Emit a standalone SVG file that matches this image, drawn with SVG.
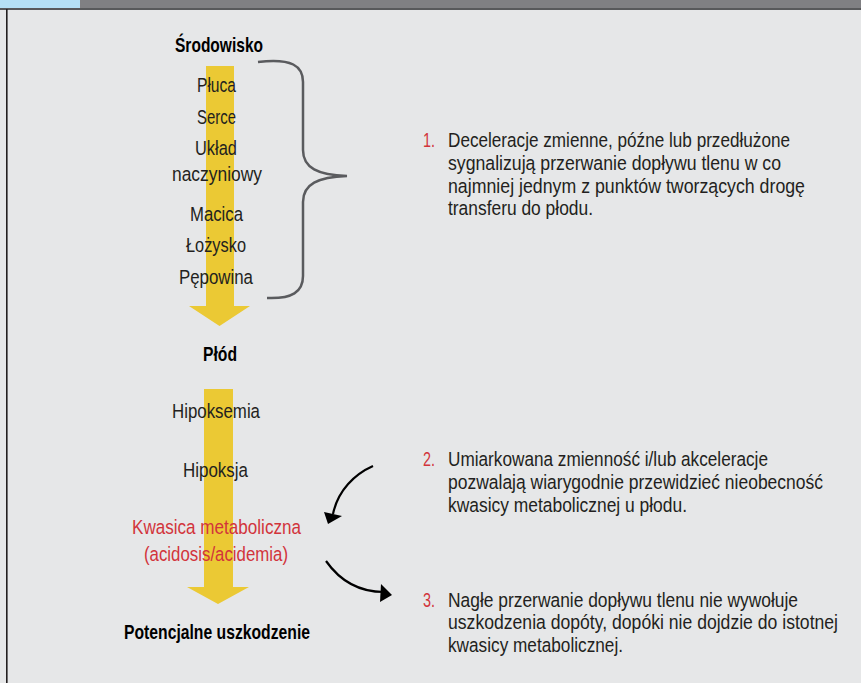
<svg xmlns="http://www.w3.org/2000/svg" width="861" height="683" viewBox="0 0 861 683">
<style>
text{font-family:"Liberation Sans",Arial,sans-serif;font-size:20.5px;fill:#231f20}
.c{text-anchor:middle}
.b{font-weight:bold;fill:#000}
.r{fill:#d2343b}
.n{fill:#d2343b}
.flow{fill:#ebc934}
.brace{fill:none;stroke:#5a5b5e;stroke-width:2.5}
.curve{fill:none;stroke:#000;stroke-width:2.2}
</style>
<rect x="0" y="0" width="861" height="683" fill="#e6e7e8"/>
<rect x="0" y="0" width="861" height="9" fill="#808083"/>
<rect x="0" y="0" width="80" height="9" fill="#b5e0f5"/>
<rect x="0" y="8" width="861" height="2" fill="#58595b"/>
<rect x="6" y="9" width="1.6" height="674" fill="#231f20"/>

<g id="arrow-top"><polygon class="flow" points="206,66 234,66 234,306 250,306 219.5,326 189,306 206,306"/></g>
<g id="arrow-bottom"><polygon class="flow" points="204,389 233,389 233,587 249,587 218,604 187,587 204,587"/></g>

<g id="chain-top">
<text class="c b" x="219" y="52" textLength="88" lengthAdjust="spacingAndGlyphs">Środowisko</text>
<text class="c" x="216.5" y="92" textLength="39" lengthAdjust="spacingAndGlyphs">Płuca</text>
<text class="c" x="216.5" y="124" textLength="39" lengthAdjust="spacingAndGlyphs">Serce</text>
<text class="c" x="216" y="155" textLength="42" lengthAdjust="spacingAndGlyphs">Układ</text>
<text class="c" x="217" y="181" textLength="90" lengthAdjust="spacingAndGlyphs">naczyniowy</text>
<text class="c" x="216.5" y="221" textLength="53" lengthAdjust="spacingAndGlyphs">Macica</text>
<text class="c" x="216" y="252" textLength="60" lengthAdjust="spacingAndGlyphs">Łożysko</text>
<text class="c" x="216" y="284" textLength="74" lengthAdjust="spacingAndGlyphs">Pępowina</text>
</g>

<g id="chain-bottom">
<text class="c b" x="220" y="361" textLength="34" lengthAdjust="spacingAndGlyphs">Płód</text>
<text class="c" x="216" y="418" textLength="88" lengthAdjust="spacingAndGlyphs">Hipoksemia</text>
<text class="c" x="215.5" y="477" textLength="65" lengthAdjust="spacingAndGlyphs">Hipoksja</text>
<text class="c r" x="216.5" y="534" textLength="169" lengthAdjust="spacingAndGlyphs">Kwasica metaboliczna</text>
<text class="c r" x="216" y="561" textLength="144" lengthAdjust="spacingAndGlyphs">(acidosis/acidemia)</text>
<text class="c b" x="217" y="639" textLength="186" lengthAdjust="spacingAndGlyphs">Potencjalne uszkodzenie</text>
</g>

<g id="connectors">
<path class="brace" d="M258,62 C292,58 303,66 303,82 L303,150 C303,168 318,175 347,176 C318,177 303,184 303,202 L303,276 C303,292 292,299 267,298"/>
<path class="curve" d="M373,466 C355,474 338,490 333,514"/>
<polygon points="324,512 342,516 328,524" fill="#000"/>
<path class="curve" d="M326,561 C338,578 355,592 384,592"/>
<polygon points="381,584 392,595 380,602" fill="#000"/>
</g>

<g id="note-1">
<text class="n" x="423" y="147" textLength="12" lengthAdjust="spacingAndGlyphs">1.</text>
<text x="448" y="147" textLength="342" lengthAdjust="spacingAndGlyphs">Deceleracje zmienne, późne lub przedłużone</text>
<text x="448" y="170" textLength="333" lengthAdjust="spacingAndGlyphs">sygnalizują przerwanie dopływu tlenu w co</text>
<text x="448" y="193" textLength="357" lengthAdjust="spacingAndGlyphs">najmniej jednym z punktów tworzących drogę</text>
<text x="448" y="215" textLength="145" lengthAdjust="spacingAndGlyphs">transferu do płodu.</text>
</g>
<g id="note-2">
<text class="n" x="423" y="466" textLength="12" lengthAdjust="spacingAndGlyphs">2.</text>
<text x="448" y="466" textLength="320" lengthAdjust="spacingAndGlyphs">Umiarkowana zmienność i/lub akceleracje</text>
<text x="448" y="489" textLength="375" lengthAdjust="spacingAndGlyphs">pozwalają wiarygodnie przewidzieć nieobecność</text>
<text x="448" y="512" textLength="239" lengthAdjust="spacingAndGlyphs">kwasicy metabolicznej u płodu.</text>
</g>
<g id="note-3">
<text class="n" x="423" y="607" textLength="12" lengthAdjust="spacingAndGlyphs">3.</text>
<text x="448" y="607" textLength="350" lengthAdjust="spacingAndGlyphs">Nagłe przerwanie dopływu tlenu nie wywołuje</text>
<text x="448" y="629" textLength="390" lengthAdjust="spacingAndGlyphs">uszkodzenia dopóty, dopóki nie dojdzie do istotnej</text>
<text x="448" y="652" textLength="175" lengthAdjust="spacingAndGlyphs">kwasicy metabolicznej.</text>
</g>
</svg>
